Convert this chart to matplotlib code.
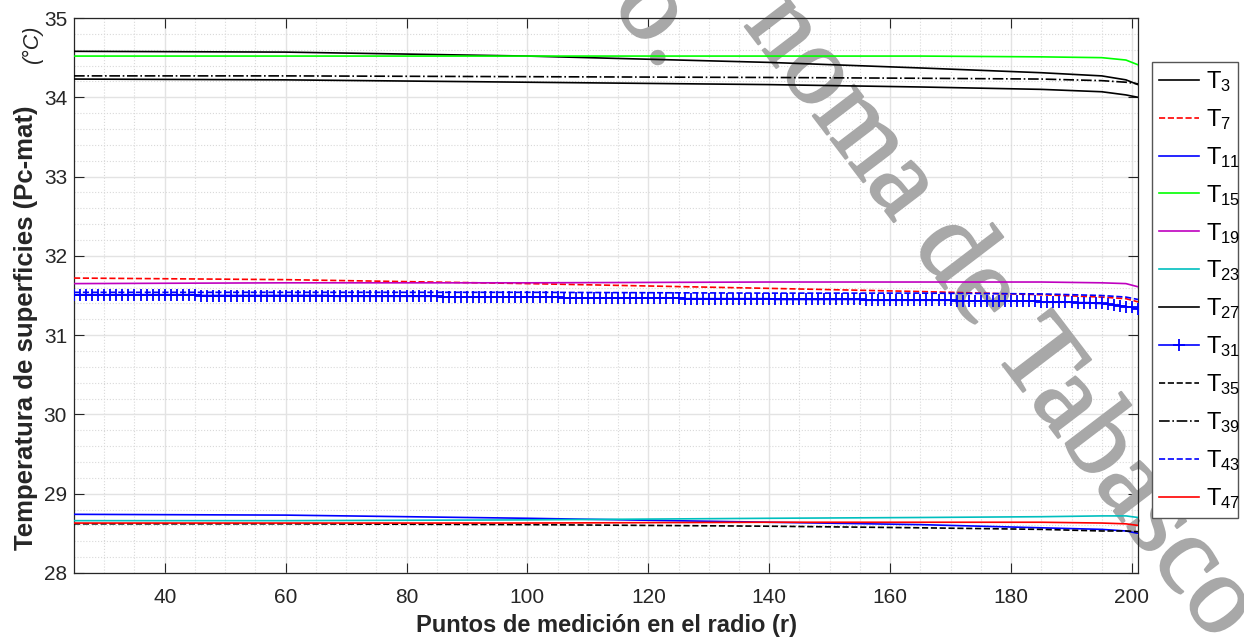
import numpy as np
import matplotlib.pyplot as plt
import matplotlib.patheffects as pe
from matplotlib.ticker import MultipleLocator

plt.rcParams['font.family'] = ['Liberation Sans', 'DejaVu Sans']
plt.rcParams['mathtext.fontset'] = 'custom'
plt.rcParams['mathtext.rm'] = 'Liberation Sans'
plt.rcParams['mathtext.it'] = 'Liberation Sans:italic'
plt.rcParams['mathtext.bf'] = 'Liberation Sans:bold'

x_key = [25, 60, 100, 140, 165, 185, 195, 199, 201]

T3  = [34.58, 34.57, 34.52, 34.44, 34.37, 34.31, 34.27, 34.22, 34.16]
T27 = [34.23, 34.22, 34.19, 34.16, 34.13, 34.10, 34.07, 34.03, 34.00]
T39 = [34.27, 34.27, 34.26, 34.25, 34.24, 34.23, 34.21, 34.19, 34.17]
T15 = [34.52, 34.52, 34.52, 34.52, 34.52, 34.51, 34.50, 34.47, 34.41]

T7  = [31.72, 31.70, 31.65, 31.59, 31.55, 31.51, 31.48, 31.46, 31.42]
T43 = [31.54, 31.54, 31.54, 31.53, 31.53, 31.52, 31.50, 31.48, 31.45]
T19 = [31.65, 31.66, 31.66, 31.67, 31.67, 31.67, 31.66, 31.65, 31.61]

T11 = [28.74, 28.73, 28.69, 28.64, 28.61, 28.57, 28.55, 28.53, 28.50]
T23 = [28.66, 28.66, 28.67, 28.69, 28.70, 28.71, 28.72, 28.72, 28.70]
T47 = [28.63, 28.63, 28.63, 28.64, 28.64, 28.64, 28.63, 28.62, 28.60]
T35 = [28.62, 28.62, 28.61, 28.59, 28.57, 28.55, 28.53, 28.53, 28.52]

# T31 is drawn with a marker on every measuring point (25..201)
x_all = list(range(25, 202))
T31 = ([31.51] * 21 + [31.50] * 22 + [31.49] * 18 + [31.48] * 20 +
       [31.47] * 20 + [31.46] * 15 + [31.45] * 15 + [31.44] * 15 +
       [31.43] * 14 + [31.42] * 6 + [31.41] * 3 + [31.40] * 2 +
       [31.39, 31.38, 31.37, 31.36, 31.35, 31.33])

series = [
    ('3',  x_key, T3,  'k',  '-',  None),
    ('7',  x_key, T7,  'r',  '--', None),
    ('11', x_key, T11, 'b',  '-',  None),
    ('15', x_key, T15, '#00ff00', '-', None),
    ('19', x_key, T19, 'm',  '-',  None),
    ('23', x_key, T23, 'c',  '-',  None),
    ('27', x_key, T27, 'k',  '-',  None),
    ('31', x_all, T31, 'b',  '-',  '+'),
    ('35', x_key, T35, 'k',  '--', None),
    ('39', x_key, T39, 'k',  '-.', None),
    ('43', x_key, T43, 'b',  '--', None),
    ('47', x_key, T47, 'r',  '-',  None),
]

fig = plt.figure(figsize=(12.44, 6.41), dpi=100)
ax = fig.add_axes([0.0595, 0.1061, 0.8553, 0.8658])

for sub, xs, ys, col, ls, mk in series:
    ax.plot(xs, ys, color=col, linestyle=ls, marker=mk, markersize=8,
            markeredgewidth=1.3, linewidth=1.2, zorder=3,
            label=r'$\mathregular{T_{%s}}$' % sub)

ax.set_xlim(25, 201)
ax.set_ylim(28, 35)
ax.xaxis.set_major_locator(MultipleLocator(20))
ax.xaxis.set_minor_locator(MultipleLocator(5))
ax.yaxis.set_major_locator(MultipleLocator(1))
ax.yaxis.set_minor_locator(MultipleLocator(0.2))

ax.grid(which='major', color='#e3e3e3', linewidth=1.0)
ax.grid(which='minor', color='#d9d9d9', linestyle=':', linewidth=0.8)
ax.set_axisbelow(True)

ax.tick_params(which='major', direction='in', length=7, width=0.8,
               top=True, right=True, labelsize=15, colors='#262626', pad=11)
ax.tick_params(which='minor', length=0)
ax.tick_params(axis='y', pad=5)
for sp in ax.spines.values():
    sp.set_color('#262626')
    sp.set_linewidth(0.9)

ax.set_xlabel('Puntos de medición en el radio (r)', fontsize=17,
              fontweight='bold', color='#262626', labelpad=5)

fig.text(0.0265, 0.142, 'Temperatura de superficies (Pc-mat)', rotation=90,
         rotation_mode='anchor', ha='left', va='baseline', fontsize=18.5,
         fontweight='bold', color='#262626')
fig.text(0.0305, 0.9017, '(°C)', rotation=90, rotation_mode='anchor',
         ha='left', va='baseline', fontsize=15.5, fontstyle='italic',
         color='#262626')

leg = ax.legend(loc='upper left', bbox_to_anchor=(0.926, 0.9033, 0.069, 0.0),
                bbox_transform=fig.transFigure, mode='expand', fancybox=False,
                edgecolor='#555555', framealpha=1, borderaxespad=0,
                borderpad=0.3, handlelength=1.7, handletextpad=0.3,
                labelspacing=0.55, prop={'size': 17})
leg.get_frame().set_linewidth(1.0)
leg.set_zorder(6)

# diagonal watermark: above the grid, below the curves
wm_col = '#a8a8a8'
wm = dict(rotation=-52.7, rotation_mode='anchor', ha='center', va='center',
          fontsize=81, family='Liberation Serif', color=wm_col, zorder=2,
          transform=fig.transFigure,
          path_effects=[pe.withStroke(linewidth=1.5, foreground=wm_col)])
ax.text(0.804, 0.505, 'noma de Tabasco', **wm)
ax.text(0.529, 0.966, 'o.', **wm)

fig.savefig('out.png', dpi=100)
